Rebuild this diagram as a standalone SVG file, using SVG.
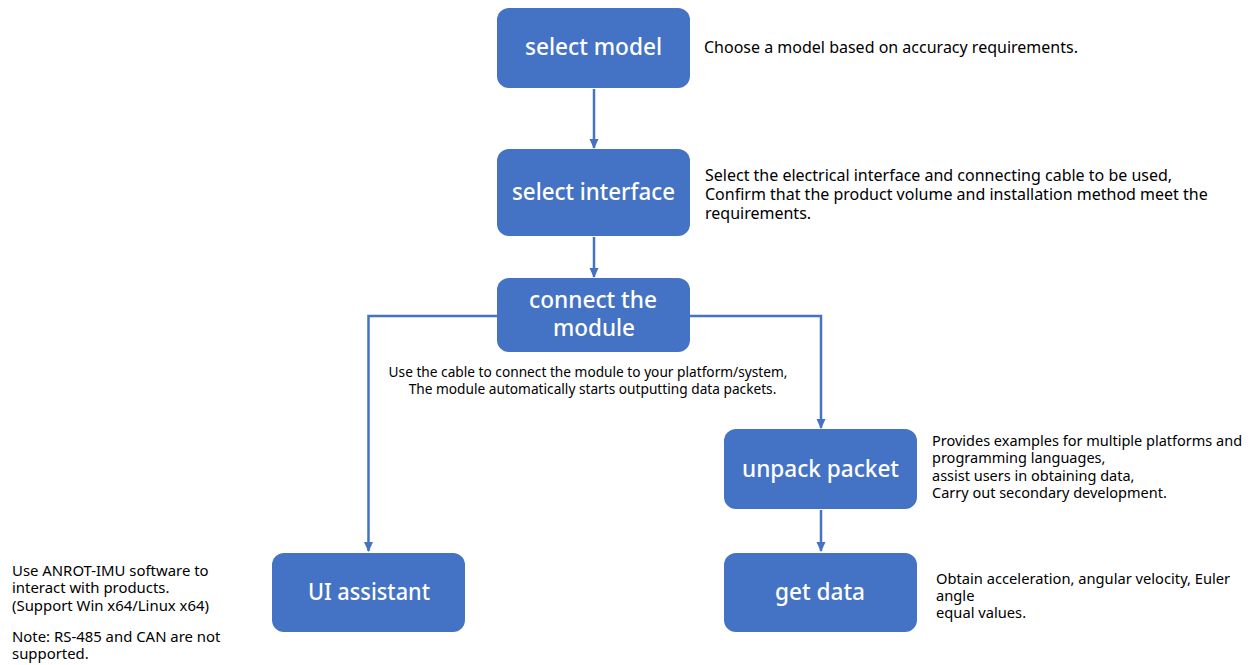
<svg xmlns="http://www.w3.org/2000/svg" width="1251" height="665" viewBox="0 0 1251 665">
<style>
.box{fill:#4472C4;}
.lbl{font-family:"Noto Sans","Open Sans",sans-serif;font-size:24px;font-weight:500;fill:#fff;text-anchor:middle;}
.desc{font-family:"Noto Sans","Open Sans",sans-serif;font-size:14.5px;fill:#000;}
.d16{font-size:16px;}
.d137{font-size:13.7px;}
.d149{font-size:14.9px;}
.d147{font-size:14.7px;}
.ln{fill:none;stroke:#4472C4;stroke-width:2.5;marker-end:url(#ah);}
</style>
<defs>
<marker id="ah" markerWidth="10" markerHeight="10" viewBox="0 0 10 10" refX="9" refY="5" orient="auto" markerUnits="userSpaceOnUse">
<path d="M0,0.5 L10,5 L0,9.5 Z" fill="#4472C4"/>
</marker>
</defs>
<rect width="1251" height="665" fill="#fff"/>
<g id="connectors">
<path class="ln" d="M594,89 V148"/>
<path class="ln" d="M594,237 V277"/>
<path class="ln" d="M497,316 H368.5 V551"/>
<path class="ln" d="M690,316 H821 V428"/>
<path class="ln" d="M821,510 V551"/>
</g>
<g id="select-model">
<rect class="box" x="497" y="8" width="193" height="80" rx="12"/>
<text class="lbl" x="593.5" y="55" textLength="137" lengthAdjust="spacingAndGlyphs">select model</text>
<text class="desc d16" x="704" y="53">Choose a model based on accuracy requirements.</text>
</g>
<g id="select-interface">
<rect class="box" x="497" y="149" width="193" height="87" rx="12"/>
<text class="lbl" x="593.5" y="200" textLength="163" lengthAdjust="spacingAndGlyphs">select interface</text>
<text class="desc d16" x="705" y="181">Select the electrical interface and connecting cable to be used,</text>
<text class="desc d16" x="705" y="200">Confirm that the product volume and installation method meet the</text>
<text class="desc d16" x="705" y="219">requirements.</text>
</g>
<g id="connect-module">
<rect class="box" x="497" y="278" width="193" height="74" rx="12"/>
<text class="lbl" x="593" y="308" textLength="128" lengthAdjust="spacingAndGlyphs">connect the</text>
<text class="lbl" x="594" y="336" textLength="82" lengthAdjust="spacingAndGlyphs">module</text>
<text class="desc d137" x="588" y="377" text-anchor="middle">Use the cable to connect the module to your platform/system,</text>
<text class="desc d137" x="592.5" y="394" text-anchor="middle">The module automatically starts outputting data packets.</text>
</g>
<g id="unpack-packet">
<rect class="box" x="724" y="429" width="193" height="80" rx="12"/>
<text class="lbl" x="820.5" y="477" textLength="157" lengthAdjust="spacingAndGlyphs">unpack packet</text>
<text class="desc" x="932" y="446">Provides examples for multiple platforms and</text>
<text class="desc" x="932" y="463">programming languages,</text>
<text class="desc" x="932" y="481">assist users in obtaining data,</text>
<text class="desc" x="932" y="498">Carry out secondary development.</text>
</g>
<g id="ui-assistant">
<rect class="box" x="272" y="553" width="193" height="79" rx="12"/>
<text class="lbl" x="369" y="600" textLength="122" lengthAdjust="spacingAndGlyphs">UI assistant</text>
<text class="desc d149" x="12" y="576">Use ANROT-IMU software to</text>
<text class="desc d149" x="12" y="593">interact with products.</text>
<text class="desc d149" x="12" y="611">(Support Win x64/Linux x64)</text>
<text class="desc d149" x="12" y="642">Note: RS-485 and CAN are not</text>
<text class="desc d149" x="12" y="659">supported.</text>
</g>
<g id="get-data">
<rect class="box" x="724" y="553" width="193" height="79" rx="12"/>
<text class="lbl" x="820" y="600" textLength="90" lengthAdjust="spacingAndGlyphs">get data</text>
<text class="desc d147" x="936" y="584">Obtain acceleration, angular velocity, Euler</text>
<text class="desc d147" x="936" y="601">angle</text>
<text class="desc d147" x="936" y="618">equal values.</text>
</g>
</svg>
